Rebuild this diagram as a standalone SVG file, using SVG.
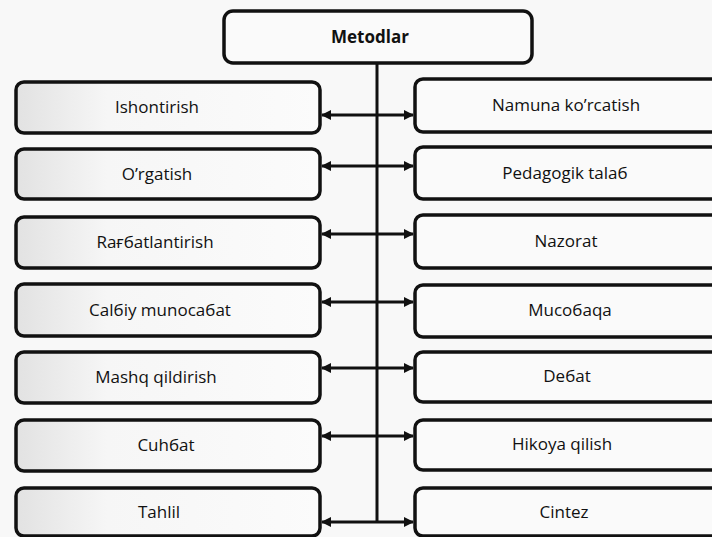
<svg xmlns="http://www.w3.org/2000/svg" width="712" height="537" viewBox="0 0 712 537">
<defs>
<linearGradient id="gl" x1="0" y1="0" x2="1" y2="0">
<stop offset="0" stop-color="#e2e2e2"/>
<stop offset="0.3" stop-color="#f6f6f6"/>
<stop offset="1" stop-color="#fbfbfb"/>
</linearGradient>
<marker id="ah" viewBox="0 0 10 10" refX="9" refY="5" markerWidth="10" markerHeight="10" markerUnits="userSpaceOnUse" orient="auto-start-reverse">
<path d="M0,0 L10,5 L0,10 z" fill="#111"/>
</marker>
<style>
.box{fill:#fafafa;stroke:#111;stroke-width:3.5}
.lbox{fill:url(#gl);stroke:#111;stroke-width:3.5}
.t{font-family:"Open Sans","Liberation Sans",sans-serif;font-size:17px;fill:#111;text-anchor:middle}
.tb{font-family:"Open Sans","Liberation Sans",sans-serif;font-size:17px;font-weight:bold;fill:#111;text-anchor:middle}
.c{stroke:#111;stroke-width:3;fill:none}
.a{stroke:#111;stroke-width:3;fill:none;marker-start:url(#ah);marker-end:url(#ah)}
</style>
</defs>
<rect width="712" height="537" fill="#f8f8f8"/>
<g id="connectors">
<line class="c" x1="377" y1="63" x2="377" y2="522"/>
<line class="a" x1="322" y1="115" x2="413" y2="115"/>
<line class="a" x1="322" y1="166" x2="413" y2="166"/>
<line class="a" x1="322" y1="234" x2="413" y2="234"/>
<line class="a" x1="322" y1="302" x2="413" y2="302"/>
<line class="a" x1="322" y1="368" x2="413" y2="368"/>
<line class="a" x1="322" y1="436" x2="413" y2="436"/>
<line class="a" x1="322" y1="522" x2="413" y2="522"/>
</g>
<g id="metodlar"><rect class="box" x="224" y="11" width="308" height="52" rx="9"/><text class="tb" x="370" y="43">Metodlar</text></g>
<g id="ishontirish"><rect class="lbox" x="16" y="82" width="304" height="51" rx="8"/><text class="t" x="157" y="113">Ishontirish</text></g>
<g id="orgatish"><rect class="lbox" x="16" y="149" width="304" height="50" rx="8"/><text class="t" x="157" y="180">O’rgatish</text></g>
<g id="ragbatlantirish"><rect class="lbox" x="16" y="217" width="304" height="51" rx="8"/><text class="t" x="155" y="248">Raғбatlantirish</text></g>
<g id="salbiy"><rect class="lbox" x="16" y="284" width="304" height="52" rx="8"/><text class="t" x="160" y="316">Calбiy munocaбat</text></g>
<g id="mashq"><rect class="lbox" x="16" y="352" width="304" height="51" rx="8"/><text class="t" x="156" y="383">Mashq qildirish</text></g>
<g id="suhbat"><rect class="lbox" x="16" y="420" width="304" height="51" rx="8"/><text class="t" x="166" y="451">Cuhбat</text></g>
<g id="tahlil"><rect class="lbox" x="16" y="488" width="304" height="48" rx="8"/><text class="t" x="159" y="518">Tahlil</text></g>
<g id="namuna"><rect class="box" x="415" y="79" width="306" height="53" rx="8"/><text class="t" x="566" y="111">Namuna ko’rcatish</text></g>
<g id="pedagogik"><rect class="box" x="415" y="147" width="306" height="52" rx="8"/><text class="t" x="565" y="179">Pedagogik talaб</text></g>
<g id="nazorat"><rect class="box" x="415" y="215" width="306" height="53" rx="8"/><text class="t" x="566" y="247">Nazorat</text></g>
<g id="musobaqa"><rect class="box" x="415" y="285" width="306" height="52" rx="8"/><text class="t" x="570" y="316">Mucoбaqa</text></g>
<g id="debat"><rect class="box" x="415" y="352" width="306" height="50" rx="8"/><text class="t" x="567" y="382">Deбat</text></g>
<g id="hikoya"><rect class="box" x="415" y="420" width="306" height="50" rx="8"/><text class="t" x="562" y="450">Hikoya qilish</text></g>
<g id="sintez"><rect class="box" x="415" y="488" width="306" height="48" rx="8"/><text class="t" x="564" y="518">Cintez</text></g>
</svg>
